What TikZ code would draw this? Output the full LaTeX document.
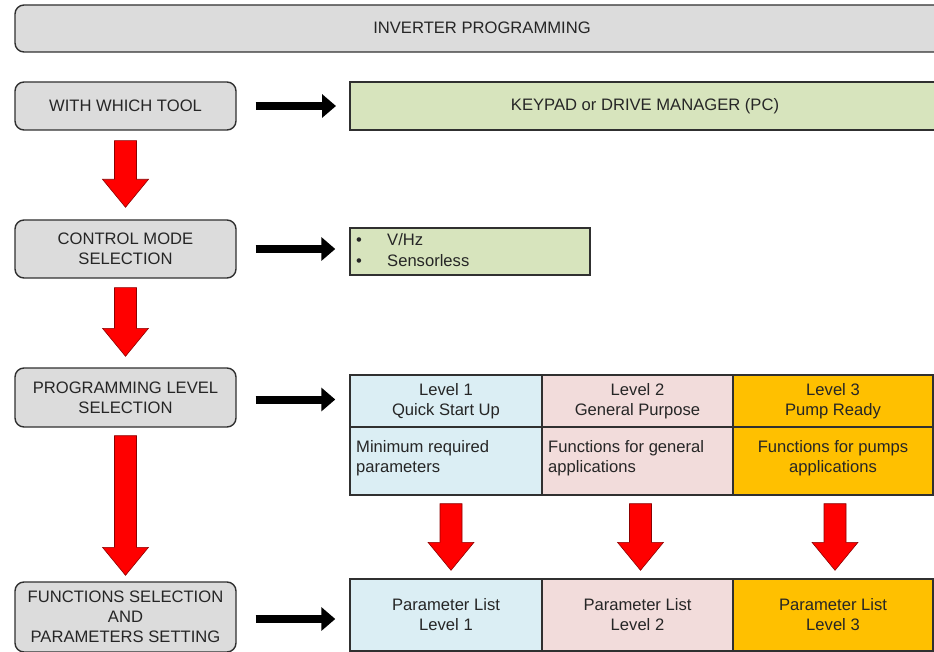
\documentclass[tikz,border=0pt]{standalone}
\usepackage{fontspec}
\setmainfont{Liberation Sans}
\usetikzlibrary{calc,arrows.meta}
\definecolor{boxgray}{HTML}{DCDCDC}
\definecolor{boxgreen}{HTML}{D7E4BD}
\definecolor{cellblue}{HTML}{DBEEF4}
\definecolor{cellpink}{HTML}{F2DCDB}
\definecolor{cellorange}{HTML}{FFC000}
\definecolor{edge}{HTML}{303030}
\tikzset{
  x=1pt,y=-1pt,
  every node/.style={font=\fontsize{16.6}{20}\selectfont, text=black!85, inner sep=0pt},
  roundbox/.style={draw=edge, line width=1.4pt, fill=boxgray, rounded corners=9pt, align=center},
  greenbox/.style={draw=edge, line width=1.4pt, fill=boxgreen},
  cell/.style={draw=edge, line width=1.4pt},
  blackarrow/.style={draw=black, line width=8pt, -{Triangle[length=14pt,width=23pt]}},
  redarrow/.style={draw=red!55!black, fill=red, line width=0.6pt,
    to path={let \p1=(\tikztostart), \p2=(\tikztotarget) in
      (\x1-11pt,\y1) -- (\x1+11pt,\y1) -- (\x1+11pt,\y2+28pt) -- (\x1+23pt,\y2+28pt)
      -- (\x1,\y2) -- (\x1-23pt,\y2+28pt) -- (\x1-11pt,\y2+28pt) -- cycle}},
  txt/.style={align=center},
}
\begin{document}
\begin{tikzpicture}
\useasboundingbox (0,0) rectangle (934,652);
\begin{scope}
\clip (0,0) rectangle (934,652);
% title
\path[roundbox] (15,5) rectangle (950,52);
\node[txt] (title) at (482,28) {INVERTER PROGRAMMING};
% row 1
\node[roundbox, minimum width=221pt, minimum height=48pt] (wt) at (125.5,106) {WITH WHICH TOOL};
\path[greenbox] (350,82) rectangle (950,130);
\node[txt] (kp) at (645,106) {KEYPAD or DRIVE MANAGER (PC)};
\coordinate (kpw) at (350,106);
% row 2
\node[roundbox, minimum width=221pt, minimum height=58pt] (cm) at (125.5,249) {CONTROL MODE\\SELECTION};
\node[greenbox, minimum width=240pt, minimum height=47pt] (cmb) at (470,251.5) {};
\node[anchor=base west] (b1) at (356,246) {\textbullet};
\node[anchor=base west] (v1) at (387,246) {V/Hz};
\node[anchor=base west] (b2) at (356,267) {\textbullet};
\node[anchor=base west] (v2) at (387,267) {Sensorless};
% row 3
\node[roundbox, minimum width=221pt, minimum height=59pt] (pl) at (125.5,397.5) {PROGRAMMING LEVEL\\SELECTION};
\node[cell, fill=cellblue, minimum width=192pt, minimum height=52pt] (h1) at (446,401) {};
\node[cell, fill=cellpink, minimum width=191pt, minimum height=52pt] (h2) at (637.5,401) {};
\node[cell, fill=cellorange, minimum width=200pt, minimum height=52pt] (h3) at (833,401) {};
\node[cell, fill=cellblue, minimum width=192pt, minimum height=68pt] (c1) at (446,461) {};
\node[cell, fill=cellpink, minimum width=191pt, minimum height=68pt] (c2) at (637.5,461) {};
\node[cell, fill=cellorange, minimum width=200pt, minimum height=68pt] (c3) at (833,461) {};
\node[txt] (t1) at (h1) {Level 1\\Quick Start Up};
\node[txt] (t2) at (h2) {Level 2\\General Purpose};
\node[txt] (t3) at (h3) {Level 3\\Pump Ready};
\node[align=left, anchor=west] (d1) at (356,458) {Minimum required\\parameters};
\node[align=left, anchor=west] (d2) at (548,458) {Functions for general\\applications};
\node[txt] (d3) at (833,458) {Functions for pumps\\applications};
% row 4
\node[roundbox, minimum width=221pt, minimum height=70pt] (fs) at (125.5,617) {FUNCTIONS SELECTION\\AND\\PARAMETERS SETTING};
\node[cell, fill=cellblue, minimum width=192pt, minimum height=72pt] (p1) at (446,615) {};
\node[cell, fill=cellpink, minimum width=191pt, minimum height=72pt] (p2) at (637.5,615) {};
\node[cell, fill=cellorange, minimum width=200pt, minimum height=72pt] (p3) at (833,615) {};
\node[txt] (q1) at (p1) {Parameter List\\Level 1};
\node[txt] (q2) at (p2) {Parameter List\\Level 2};
\node[txt] (q3) at (p3) {Parameter List\\Level 3};
% black arrows
\draw[blackarrow] ([xshift=19pt]wt.east) -- ([xshift=-14pt]wt.east -| kpw);
\draw[blackarrow] ([xshift=19pt]cm.east) -- ([xshift=-14pt]cm.east -| cmb.west);
\draw[blackarrow] ([xshift=19pt,yshift=-2pt]pl.east) -- ([xshift=-14pt,yshift=-2pt]pl.east -| h1.west);
\draw[blackarrow] ([xshift=19pt,yshift=-2pt]fs.east) -- ([xshift=-14pt,yshift=-2pt]fs.east -| p1.west);
% red arrows
\path[redarrow] ([yshift=-10pt]wt.south) to ([yshift=12pt]cm.north);
\path[redarrow] ([yshift=-9pt]cm.south) to ([yshift=11pt]pl.north);
\path[redarrow] ([yshift=-8pt]pl.south) to ([yshift=6pt]fs.north);
\path[redarrow] ([xshift=5pt,yshift=-8pt]c1.south) to ([xshift=5pt,yshift=8pt]p1.north);
\path[redarrow] ([xshift=3pt,yshift=-8pt]c2.south) to ([xshift=3pt,yshift=8pt]p2.north);
\path[redarrow] ([xshift=2pt,yshift=-8pt]c3.south) to ([xshift=2pt,yshift=8pt]p3.north);
\end{scope}
\end{tikzpicture}
\end{document}
